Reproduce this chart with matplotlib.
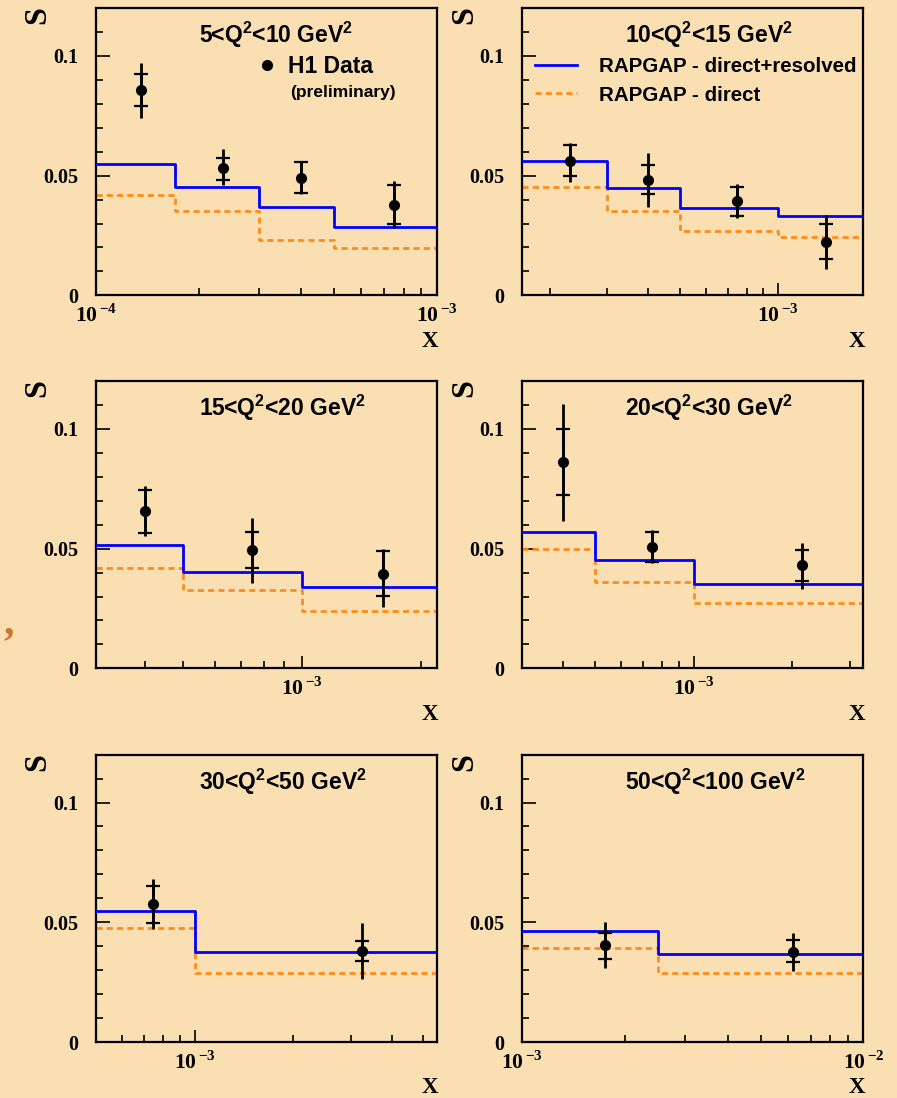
import matplotlib.pyplot as plt
import numpy as np
from matplotlib.ticker import LogLocator, FuncFormatter, MultipleLocator, NullFormatter

plt.rcParams['mathtext.fontset'] = 'custom'
plt.rcParams['mathtext.bf'] = 'Liberation Serif:bold'
plt.rcParams['mathtext.rm'] = 'Liberation Serif:bold'
plt.rcParams['mathtext.sf'] = 'Liberation Sans:bold'

bg = '#F9DFB2'
blue = '#0000FF'
orange = '#FF8C1A'

# --- data, one block per Q2 bin ---
q2_bins = [('5', '10'), ('10', '15'), ('15', '20'), ('20', '30'), ('30', '50'), ('50', '100')]
xlims = [(1e-4, 1e-3), (1.65e-4, 1.82e-3), (3e-4, 2.2e-3),
         (3e-4, 3.3e-3), (5e-4, 5.5e-3), (1e-3, 1e-2)]

edges = [[1e-4, 1.7e-4, 3e-4, 5e-4, 1e-3],
         [1.65e-4, 3e-4, 5e-4, 1e-3, 1.82e-3],
         [3e-4, 5e-4, 1e-3, 2.2e-3],
         [3e-4, 5e-4, 1e-3, 3.3e-3],
         [5e-4, 1e-3, 5.5e-3],
         [1e-3, 2.5e-3, 1e-2]]
rap_full = [[0.0549, 0.0454, 0.0368, 0.0285],
            [0.0560, 0.0447, 0.0364, 0.0333],
            [0.0516, 0.0404, 0.0339],
            [0.0568, 0.0452, 0.0354],
            [0.0545, 0.0377],
            [0.0464, 0.0366]]
rap_direct = [[0.0419, 0.0352, 0.0231, 0.0199],
              [0.0451, 0.0352, 0.0270, 0.0245],
              [0.0418, 0.0329, 0.0241],
              [0.0499, 0.0361, 0.0275],
              [0.0475, 0.0290],
              [0.0391, 0.0287]]

x_data = [[1.355e-4, 2.35e-4, 3.99e-4, 7.48e-4],
          [2.30e-4, 4.0e-4, 7.46e-4, 1.404e-3],
          [4.0e-4, 7.46e-4, 1.60e-3],
          [4.0e-4, 7.45e-4, 2.15e-3],
          [7.49e-4, 3.25e-3],
          [1.75e-3, 6.23e-3]]
s_data = [[0.0858, 0.0531, 0.0491, 0.0377],
          [0.0563, 0.0483, 0.0393, 0.0224],
          [0.0656, 0.0495, 0.0393],
          [0.0861, 0.0506, 0.0430],
          [0.0577, 0.0382],
          [0.0405, 0.0377]]
stat_lo = [[0.0791, 0.0482, 0.0429, 0.0297],
           [0.0499, 0.0423, 0.0333, 0.0150],
           [0.0565, 0.0421, 0.0303],
           [0.0722, 0.0446, 0.0364],
           [0.0499, 0.0338],
           [0.0347, 0.0336]]
stat_hi = [[0.0925, 0.0575, 0.0556, 0.0461],
           [0.0627, 0.0546, 0.0454, 0.0298],
           [0.0743, 0.0569, 0.0488],
           [0.1000, 0.0569, 0.0495],
           [0.0653, 0.0422],
           [0.0457, 0.0426]]
tot_lo = [[0.0740, 0.0461, 0.0425, 0.0280],
          [0.0475, 0.0370, 0.0322, 0.0109],
          [0.0551, 0.0356, 0.0255],
          [0.0614, 0.0442, 0.0332],
          [0.0471, 0.0262],
          [0.0311, 0.0297]]
tot_hi = [[0.0972, 0.0610, 0.0563, 0.0478],
          [0.0635, 0.0593, 0.0465, 0.0336],
          [0.0760, 0.0628, 0.0499],
          [0.1102, 0.0576, 0.0523],
          [0.0680, 0.0496],
          [0.0503, 0.0457]]

fig = plt.figure(figsize=(8.97, 10.98), dpi=100, facecolor=bg)

lefts = [0.107, 0.5823]
bottoms = [0.731, 0.3913, 0.051]
w, h = 0.3802, 0.2617

serif = 'Liberation Serif'
sans = 'Liberation Sans'

for i in range(6):
    ax = fig.add_axes([lefts[i % 2], bottoms[i // 2], w, h])
    ax.set_facecolor(bg)
    ax.set_xscale('log')

    e = np.array(edges[i])
    full = np.array(rap_full[i])
    direct = np.array(rap_direct[i])
    l_dir, = ax.step(e, np.append(direct, direct[-1]), where='post',
                     color=orange, lw=2.0, ls=(0, (2.2, 1.5)), zorder=2)
    l_full, = ax.step(e, np.append(full, full[-1]), where='post',
                      color=blue, lw=2.0, zorder=3)

    x = np.array(x_data[i])
    y = np.array(s_data[i])
    ax.errorbar(x, y, yerr=[y - np.array(tot_lo[i]), np.array(tot_hi[i]) - y],
                fmt='none', ecolor='k', elinewidth=2, zorder=4)
    ax.errorbar(x, y, yerr=[y - np.array(stat_lo[i]), np.array(stat_hi[i]) - y],
                fmt='none', ecolor='k', elinewidth=2, capsize=5, capthick=1.6, zorder=4)
    pts, = ax.plot(x, y, 'o', color='k', ms=7, zorder=5)

    ax.set_xlim(*xlims[i])
    ax.set_ylim(0, 0.12)

    ax.xaxis.set_major_locator(LogLocator(base=10))
    ax.xaxis.set_minor_locator(LogLocator(base=10, subs=np.arange(2, 10)))
    ax.xaxis.set_minor_formatter(NullFormatter())
    ax.xaxis.set_major_formatter(FuncFormatter(
        lambda v, p: r'$\mathbf{10}^{\,\mathbf{%d}}$' % round(np.log10(v))))
    ax.set_yticks([0, 0.05, 0.1])
    ax.set_yticklabels(['0', '0.05', '0.1'])
    ax.yaxis.set_minor_locator(MultipleLocator(0.01))

    ax.tick_params(axis='both', which='both', direction='in', top=False, right=False,
                   color='k', width=1.2)
    ax.tick_params(axis='y', which='major', length=10, pad=13)
    ax.tick_params(axis='y', which='minor', length=5)
    ax.tick_params(axis='x', which='major', length=8.5, pad=6, labelsize=15.5)
    ax.tick_params(axis='x', which='minor', length=5)
    for lab in ax.get_yticklabels():
        lab.set_fontfamily(serif)
        lab.set_fontweight('bold')
        lab.set_fontsize(14.5)
    for sp in ax.spines.values():
        sp.set_linewidth(1.6)

    lo, hi = q2_bins[i]
    title = lo + r'<Q$^{\mathsf{2}}$<' + hi + r' GeV$^{\mathsf{2}}$'
    ax.text(0.302, 0.905, title, transform=ax.transAxes, ha='left', va='center',
            fontsize=16.5, fontweight='bold', family=sans)
    ax.text(-0.17, 1.005, 'S', transform=ax.transAxes, rotation=90, ha='center',
            va='top', fontsize=23, fontweight='bold', family=serif)
    ax.text(0.98, -0.16, 'X', transform=ax.transAxes, ha='center', va='center',
            fontsize=16.5, fontweight='bold', family=serif)

    if i == 0:
        ax.legend([pts], ['H1 Data'], loc='center left', bbox_to_anchor=(0.468, 0.798),
                  frameon=False, borderpad=0, borderaxespad=0, handlelength=1.0,
                  handletextpad=0.42, prop={'family': sans, 'weight': 'bold', 'size': 16.5})
        ax.text(0.569, 0.707, '(preliminary)', transform=ax.transAxes, ha='left',
                va='center', fontsize=12.5, fontweight='bold', family=sans)
    if i == 1:
        ax.legend([l_full, l_dir], ['RAPGAP - direct+resolved', 'RAPGAP - direct'],
                  loc='upper left', bbox_to_anchor=(0.038, 0.828), frameon=False,
                  borderpad=0, borderaxespad=0, handlelength=2.05, handletextpad=1.07,
                  labelspacing=0.45,
                  prop={'family': sans, 'weight': 'bold', 'size': 14.8})

fig.text(8.5 / 897, 1 - 633 / 1098, ',', color='#C8782F', fontsize=30,
         fontweight='bold', family=serif, ha='center', va='baseline')

fig.savefig('out.png', dpi=100, facecolor=bg)
